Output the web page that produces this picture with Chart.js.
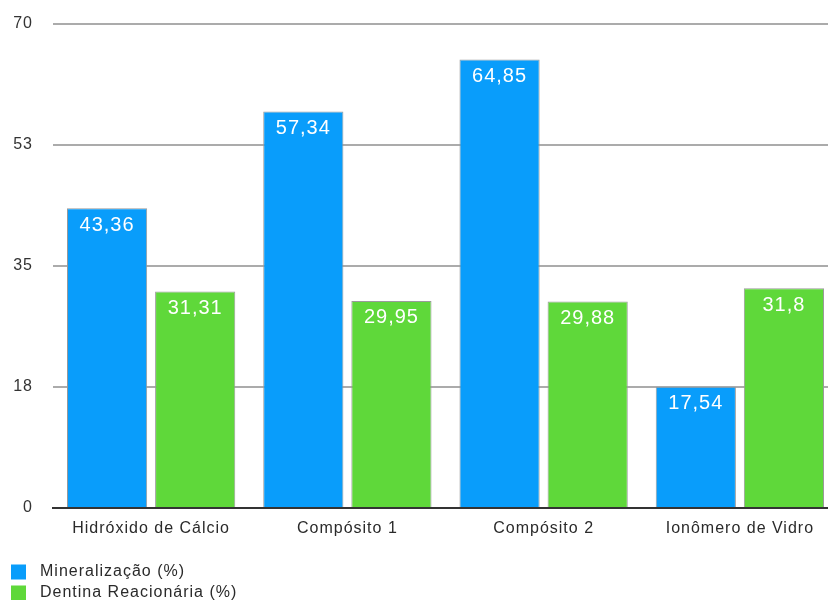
<!DOCTYPE html>
<html>
<head>
<meta charset="utf-8">
<script src="https://cdn.jsdelivr.net/npm/chart.js@4"></script>
<style>
  html, body { margin: 0; padding: 0; background: #fff; overflow: hidden; }
  #wrap { width: 840px; height: 600px; position: relative; }
</style>
</head>
<body>
<div id="wrap"><canvas id="c"></canvas></div>
<script>
const categories = ['Hidróxido de Cálcio', 'Compósito 1', 'Compósito 2', 'Ionômero de Vidro'];
const mineralizacao = [43.36, 57.34, 64.85, 17.54];
const dentina = [31.31, 29.95, 29.88, 31.8];
const seriesNames = ['Mineralização (%)', 'Dentina Reacionária (%)'];
const yTicks = [0, 17.5, 35, 52.5, 70];

const FONT = '"Liberation Sans", Arial, Helvetica, sans-serif';

const spacing = {
  id: 'spacing',
  beforeInit(chart) { chart.ctx.letterSpacing = '1px'; },
  beforeDraw(chart) { chart.ctx.letterSpacing = '1px'; }
};

const valueLabels = {
  id: 'valueLabels',
  afterDatasetsDraw(chart) {
    const ctx = chart.ctx;
    ctx.save();
    ctx.fillStyle = '#ffffff';
    ctx.font = '20px ' + FONT;
    ctx.textAlign = 'center';
    ctx.textBaseline = 'middle';
    chart.data.datasets.forEach((ds, i) => {
      chart.getDatasetMeta(i).data.forEach((bar, j) => {
        const txt = String(ds.data[j]).replace('.', ',');
        ctx.fillText(txt, bar.x, bar.y + 17);
      });
    });
    ctx.restore();
  }
};

const bottomLegend = {
  id: 'bottomLegend',
  afterDraw(chart) {
    const ctx = chart.ctx;
    ctx.save();
    ctx.font = '16px ' + FONT;
    ctx.textBaseline = 'middle';
    ctx.textAlign = 'left';
    chart.data.datasets.forEach((ds, i) => {
      const cy = 572 + i * 21;
      ctx.fillStyle = ds.backgroundColor;
      ctx.fillRect(11, cy - 7.5, 15, 15);
      ctx.fillStyle = '#2a2a2a';
      ctx.fillText(ds.label, 40, cy);
    });
    ctx.restore();
  }
};

new Chart(document.getElementById('c'), {
  type: 'bar',
  data: {
    labels: categories,
    datasets: [
      { label: seriesNames[0], data: mineralizacao, backgroundColor: '#099dfb', borderColor: '#9a9a9a', borderWidth: 1, categoryPercentage: 0.898, barPercentage: 0.91 },
      { label: seriesNames[1], data: dentina, backgroundColor: '#5fd83a', borderColor: '#9a9a9a', borderWidth: 1, categoryPercentage: 0.898, barPercentage: 0.91 }
    ]
  },
  options: {
    responsive: true,
    maintainAspectRatio: false,
    animation: false,
    layout: { padding: { top: 24, right: 2, left: 0, bottom: 0 } },
    plugins: { legend: { display: false }, tooltip: { enabled: false } },
    scales: {
      x: {
        grid: { display: false, drawTicks: false },
        border: { display: true, color: '#333', width: 2 },
        ticks: { color: '#2a2a2a', font: { family: FONT, size: 16 }, padding: 11 },
        afterFit(s) { s.height = 92; s.paddingLeft = 0; s.paddingRight = 0; }
      },
      y: {
        min: 0, max: 70,
        afterBuildTicks(s) { s.ticks = yTicks.map(v => ({ value: v })); },
        ticks: {
          color: '#333',
          font: { family: FONT, size: 16 },
          padding: 20,
          callback: v => String(Math.round(v))
        },
        grid: {
          drawTicks: false,
          color: ctx => ctx.tick && ctx.tick.value === 0 ? 'rgba(0,0,0,0)' : '#ababab',
          lineWidth: 2
        },
        border: { display: false },
        afterFit(s) { s.width = 53; s.paddingTop = 0; s.paddingBottom = 0; }
      }
    }
  },
  plugins: [spacing, valueLabels, bottomLegend]
});
</script>
</body>
</html>
